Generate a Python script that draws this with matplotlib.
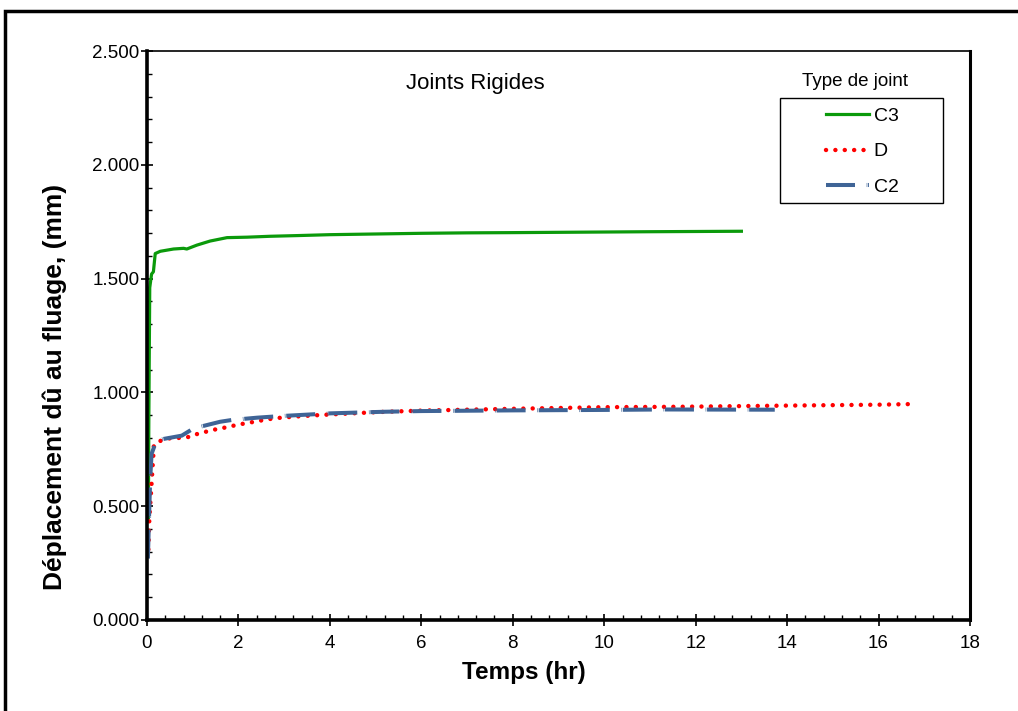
import matplotlib
matplotlib.use('Agg')
import matplotlib.pyplot as plt
from matplotlib.ticker import MultipleLocator, FormatStrFormatter
from matplotlib.patches import Rectangle

plt.rcParams['font.family'] = ['Liberation Sans', 'DejaVu Sans']

# Joint C3 (green)
c3_t = [0.03, 0.04, 0.05, 0.06, 0.10, 0.14, 0.18, 0.29, 0.58, 0.80, 0.87, 1.09, 1.38,
        1.75, 2.19, 2.70, 3.29, 4.00, 5.0, 6.0, 7.0, 8.0, 9.5, 11.0, 12.0, 13.0]
c3_d = [0.45, 0.88, 1.17, 1.46, 1.52, 1.53, 1.61, 1.62, 1.63, 1.633, 1.63, 1.647, 1.665,
        1.680, 1.682, 1.686, 1.689, 1.693, 1.696, 1.699, 1.701, 1.702, 1.704, 1.706, 1.707, 1.708]

# Joint D (red dotted)
d_t = [0.03, 0.05, 0.10, 0.14, 0.15, 0.32, 0.54, 0.72, 0.95, 1.13, 1.35, 1.55, 1.75, 1.96,
       2.15, 2.35, 2.56, 2.78, 3.0, 3.4, 4.0, 5.1, 6.0, 8.0, 10.0, 11.7, 14.0, 16.0, 16.8]
d_d = [0.31, 0.44, 0.60, 0.73, 0.77, 0.79, 0.80, 0.80, 0.805, 0.82, 0.83, 0.84, 0.847, 0.857,
       0.864, 0.871, 0.879, 0.886, 0.890, 0.896, 0.903, 0.914, 0.920, 0.928, 0.935, 0.937,
       0.942, 0.946, 0.949]

# Joint C2 (blue dashed)
c2_t = [0.02, 0.04, 0.07, 0.10, 0.21, 0.76, 1.02, 1.60, 1.86, 2.41, 2.92, 4.02, 5.2,
        6.0, 8.0, 10.0, 11.3, 13.73]
c2_d = [0.27, 0.42, 0.62, 0.73, 0.79, 0.81, 0.842, 0.871, 0.879, 0.889, 0.896, 0.908, 0.915,
        0.918, 0.921, 0.923, 0.925, 0.924]

W, H = 1018, 711
fig = plt.figure(figsize=(W / 100, H / 100), dpi=100)
ax = fig.add_axes([147 / W, 1 - 620 / H, (970 - 147) / W, (620 - 51) / H])

# outer frame of the figure (cut on right and bottom in the original)
fig.patches.append(Rectangle((5 / W, -0.05), 1.2, (1 - 11 / H) + 0.05,
                             transform=fig.transFigure, fill=False,
                             edgecolor='black', linewidth=2.5))

ax.plot(c3_t, c3_d, color='#0b9a0b', lw=2.3, label='C3')
ax.plot(d_t, d_d, color='#ff0000', lw=3.2, linestyle=(0, (0.01, 2.1)),
        dash_capstyle='round', label='D')
ax.plot(c2_t, c2_d, color='#3f6496', lw=2.9, linestyle=(0, (7.2, 2.9, 0.15, 0.2)),
        dash_capstyle='butt', label='C2')

ax.set_xlim(0, 18)
ax.set_ylim(0, 2.5)
ax.xaxis.set_major_locator(MultipleLocator(2))
ax.xaxis.set_minor_locator(MultipleLocator(0.4))
ax.yaxis.set_major_locator(MultipleLocator(0.5))
ax.yaxis.set_minor_locator(MultipleLocator(0.1))
ax.yaxis.set_major_formatter(FormatStrFormatter('%.3f'))
ax.tick_params(which='major', direction='inout', length=9, width=1.2, labelsize=13.5, pad=1)
ax.tick_params(axis='x', which='major', pad=6)
ax.tick_params(which='minor', direction='in', length=3.5, width=1.0)

ax.spines['left'].set_linewidth(2.6)
ax.spines['bottom'].set_linewidth(2.6)
ax.spines['right'].set_linewidth(2.2)
ax.spines['top'].set_linewidth(1.2)

ax.set_xlabel('Temps (hr)', fontsize=17.5, fontweight='bold')
ax.set_ylabel('Déplacement dû au fluage, (mm)', fontsize=19, fontweight='bold')
ax.xaxis.set_label_coords((524 - 147) / 823, -(672 - 620) / 569)
ax.yaxis.set_label_coords(-(147 - 55) / 823, (620 - 387) / 569)
ax.xaxis.label.set_va('center')
ax.yaxis.label.set_va('center')

ax.text((475 - 147) / 823, 1 - (83 - 51) / 569, 'Joints Rigides', transform=ax.transAxes,
        fontsize=16, ha='center', va='center')

# legend: entries without frame, box drawn separately
leg = ax.legend(loc='upper left', bbox_to_anchor=((826 - 147) / 823, 1 - (107 - 51) / 569),
                frameon=False, fontsize=14, handlelength=2.2, labelspacing=0.93,
                borderpad=0, handletextpad=0.25, borderaxespad=0)
ax.add_patch(Rectangle(((780 - 147) / 823, 1 - (203 - 51) / 569), (943 - 780) / 823,
                       (203 - 98) / 569, transform=ax.transAxes, fill=False,
                       edgecolor='black', linewidth=1.0, clip_on=False))
ax.text((855 - 147) / 823, 1 - (81 - 51) / 569, 'Type de joint', transform=ax.transAxes,
        fontsize=13.5, ha='center', va='center')

fig.savefig('out.png', dpi=100)
